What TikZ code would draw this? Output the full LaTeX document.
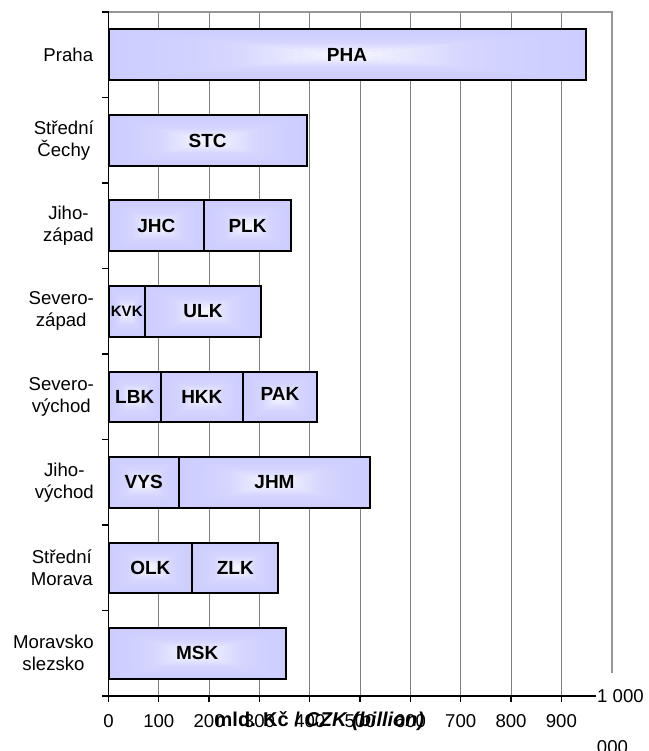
\documentclass[tikz,border=0pt]{standalone}
\usepackage{fontspec}
\setmainfont{Liberation Sans}
\usetikzlibrary{fit}
\definecolor{barL}{RGB}{204,204,255}
\definecolor{barW}{RGB}{248,248,255}
\definecolor{gridc}{RGB}{128,128,128}
\definecolor{framec}{RGB}{150,150,150}
\tikzset{
  seg/.style={draw=black, line width=2pt, inner sep=0pt,
    path picture={
      \path (path picture bounding box.north west) coordinate (ppnw)
            (path picture bounding box.north east) coordinate (ppne)
            (path picture bounding box.south west) coordinate (ppsw)
            (path picture bounding box.south east) coordinate (ppse)
            (path picture bounding box.center) coordinate (ppc);
      \fill[barL] (ppnw) rectangle (ppse);
      \shade[top color=barL, bottom color=barW, middle color=barL!80!barW] (ppnw) -- (ppne) -- (ppc) -- cycle;
      \shade[top color=barW, bottom color=barL, middle color=barL!80!barW] (ppsw) -- (ppse) -- (ppc) -- cycle;
      \shade[left color=barL, right color=barW, middle color=barL!80!barW] (ppnw) -- (ppsw) -- (ppc) -- cycle;
      \shade[left color=barW, right color=barL, middle color=barL!80!barW] (ppne) -- (ppse) -- (ppc) -- cycle;
    }},
  seglabel/.style={inner sep=0pt, font=\fontsize{19}{22}\selectfont\bfseries},
  gridline/.style={draw=gridc, line width=1pt},
  frameline/.style={draw=framec, line width=2pt},
  axisline/.style={draw=black, line width=1.3pt},
  catlabel/.style={anchor=east, align=center, inner sep=0pt,
    font=\fontsize{18.6}{22}\selectfont},
  ticklabel/.style={inner sep=0pt, font=\fontsize{18.6}{22}\selectfont},
}
\begin{document}
\begin{tikzpicture}[x=1pt, y=-1pt]
\useasboundingbox (0,0) rectangle (648,751);
% grid
\foreach \v in {100,200,...,900}
  \draw[gridline] ({108.5+0.5032*\v},12) -- ({108.5+0.5032*\v},696);
\draw[frameline] (108.5,12) -- (611.7,12) -- (611.7,673);
% bars
\node[seg, fit={(108.5,29)(585.5,80)}] (pha) {};
\node[seg, fit={(108.5,115)(306.7,166)}] (stc) {};
\node[seg, fit={(108.5,200.5)(204.3,251)}] (jhc) {};
\node[seg, fit={(204.3,200.5)(290.7,251)}] (plk) {};
\node[seg, fit={(108.5,286)(145,336.5)}] (kvk) {};
\node[seg, fit={(145,286)(261,336.5)}] (ulk) {};
\node[seg, fit={(108.5,371.5)(161,422)}] (lbk) {};
\node[seg, fit={(161,371.5)(242.7,422)}] (hkk) {};
\node[seg, fit={(242.7,371.5)(317.3,422)}] (pak) {};
\node[seg, fit={(108.5,457)(179,507.5)}] (vys) {};
\node[seg, fit={(179,457)(370,507.5)}] (jhm) {};
\node[seg, fit={(108.5,542.5)(192.3,593)}] (olk) {};
\node[seg, fit={(192.3,542.5)(278.3,593)}] (zlk) {};
\node[seg, fit={(108.5,628)(286,678.5)}] (msk) {};
\node[seglabel] (phal) at (pha) {PHA};
\node[seglabel] (stcl) at (stc) {STC};
\node[seglabel] (jhcl) at (jhc) {JHC};
\node[seglabel] (plkl) at (plk) {PLK};
\node[seglabel, font=\fontsize{15}{17}\selectfont\bfseries] (kvkl) at (kvk) {KVK};
\node[seglabel] (ulkl) at (ulk) {ULK};
\node[seglabel] (lbkl) at (lbk) {LBK};
\node[seglabel] (hkkl) at (hkk) {HKK};
\node[seglabel, yshift=2.5pt] (pakl) at (pak) {PAK};
\node[seglabel] (vysl) at (vys) {VYS};
\node[seglabel] (jhml) at (jhm) {JHM};
\node[seglabel] (olkl) at (olk) {OLK};
\node[seglabel] (zlkl) at (zlk) {ZLK};
\node[seglabel] (mskl) at (msk) {MSK};
% axes
\draw[axisline] (108.5,12) -- (108.5,696);
\foreach \i in {0,...,8}
  \draw[axisline] (102,{12+85.5*\i}) -- (108.5,{12+85.5*\i});
\draw[axisline] (102,696) -- (596,696);
\foreach \v in {0,100,...,900}
  \draw[axisline] ({108.5+0.5032*\v},696) -- ({108.5+0.5032*\v},702);
\foreach \v in {0,100,...,900}
  \node[ticklabel] (t\v) at ({108.5+0.5032*\v},721) {\v};
\node[ticklabel, anchor=west] (tmax) at (597,696) {1 000};
\node[ticklabel, anchor=base] (tmax2) at (612.5,753.5) {000};
\node[ticklabel, font=\fontsize{20}{22}\selectfont\bfseries] (xtitle) at (319.5,721) {mld. Kč / \textit{CZK (billion)}};
% category labels
\node[catlabel] (c1) at (93.3,54.75) {Praha};
\node[catlabel] (c2) at (94,140.25) {Střední\\Čechy};
\node[catlabel] (c3) at (94,225.75) {Jiho-\\západ};
\node[catlabel] (c4) at (94,311.25) {Severo-\\západ};
\node[catlabel] (c5) at (94,396.75) {Severo-\\východ};
\node[catlabel] (c6) at (94,482.25) {Jiho-\\východ};
\node[catlabel] (c7) at (93,567.75) {Střední\\Morava};
\node[catlabel] (c8) at (94,653.25) {Moravsko\\slezsko};
\end{tikzpicture}
\end{document}
